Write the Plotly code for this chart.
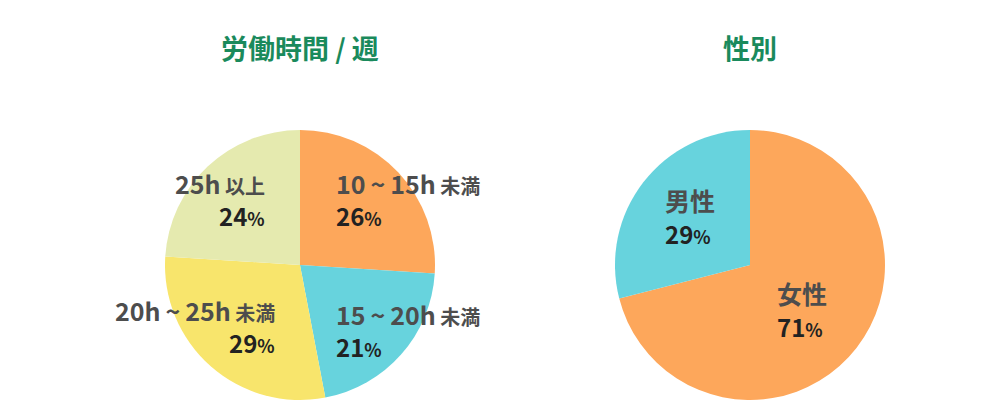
import plotly.graph_objects as go

hours_labels = ["10~15h 未満", "15~20h 未満", "20h~25h 未満", "25h 以上"]
hours_values = [26, 21, 29, 24]
hours_colors = ["#FDA75B", "#67D3DD", "#F8E56C", "#E5EAAF"]

sex_labels = ["女性", "男性"]
sex_values = [71, 29]
sex_colors = ["#FDA75B", "#67D3DD"]

titles = ["労働時間 / 週", "性別"]

# page body has an 8px margin; work in window pixels and convert
OFF = 8
W, H = 1001 - OFF, 420 - OFF
FONT = "Noto Sans CJK JP"


def px(x):
    return (x - OFF) / W


def py(y):
    return 1 - (y - OFF) / H


fig = go.Figure()
fig.add_trace(go.Pie(
    labels=hours_labels, values=hours_values, sort=False, direction="clockwise",
    rotation=0, marker=dict(colors=hours_colors, line=dict(width=0)),
    textinfo="none", hoverinfo="label+percent", showlegend=False,
    domain=dict(x=[px(165), px(435)], y=[py(400), py(130)]),
))
fig.add_trace(go.Pie(
    labels=sex_labels, values=sex_values, sort=False, direction="clockwise",
    rotation=0, marker=dict(colors=sex_colors, line=dict(width=0)),
    textinfo="none", hoverinfo="label+percent", showlegend=False,
    domain=dict(x=[px(615), px(885)], y=[py(400), py(130)]),
))

TS = "\u2009"


def lab(main, unit=None):
    s = f"<span style='color:#4d4d4d'>{main}</span>"
    if unit:
        s += f"<span style='color:#4d4d4d;font-size:20px'> {unit}</span>"
    return s


def pct(v):
    return f"<b><span style='color:#222'>{v}</span><span style='color:#222;font-size:18px'>%</span></b>"


hours_main = [f"10{TS}~{TS}15h", f"15{TS}~{TS}20h", f"20h{TS}~{TS}25h", "25h"]
hours_unit = ["未満", "未満", "未満", "以上"]
hours_pos = [(334, 183, "left"), (334, 314, "left"), (277, 310, "right"), (267, 183, "right")]

for m, u, v, (x, y, a) in zip(hours_main, hours_unit, hours_values, hours_pos):
    fig.add_annotation(x=px(x), y=py(y), xref="paper", yref="paper",
                       xanchor=a, yanchor="middle", showarrow=False, align=a,
                       text=f"<b>{lab(m, u)}</b>", font=dict(family=FONT, size=25))
    fig.add_annotation(x=px(x), y=py(y + 32), xref="paper", yref="paper",
                       xanchor=a, yanchor="middle", showarrow=False, align=a,
                       text=pct(v), font=dict(family=FONT, size=24))

sex_pos = [(775, 293), (663, 200)]
for m, v, (x, y) in zip(sex_labels, sex_values, sex_pos):
    fig.add_annotation(x=px(x), y=py(y), xref="paper", yref="paper",
                       xanchor="left", yanchor="middle", showarrow=False,
                       text=f"<b>{lab(m)}</b>", font=dict(family=FONT, size=25))
    fig.add_annotation(x=px(x), y=py(y + 33), xref="paper", yref="paper",
                       xanchor="left", yanchor="middle", showarrow=False,
                       text=pct(v), font=dict(family=FONT, size=24))

for t, cx in zip(titles, [300, 750]):
    fig.add_annotation(x=px(cx), y=py(48), xref="paper", yref="paper",
                       xanchor="center", yanchor="middle", showarrow=False,
                       text=f"<b>{t}</b>", font=dict(family=FONT, size=27, color="#1A8A5C"))

fig.update_layout(width=W, height=H, margin=dict(l=0, r=0, t=0, b=0),
                  paper_bgcolor="white", plot_bgcolor="white")
fig.write_html("out.html")
